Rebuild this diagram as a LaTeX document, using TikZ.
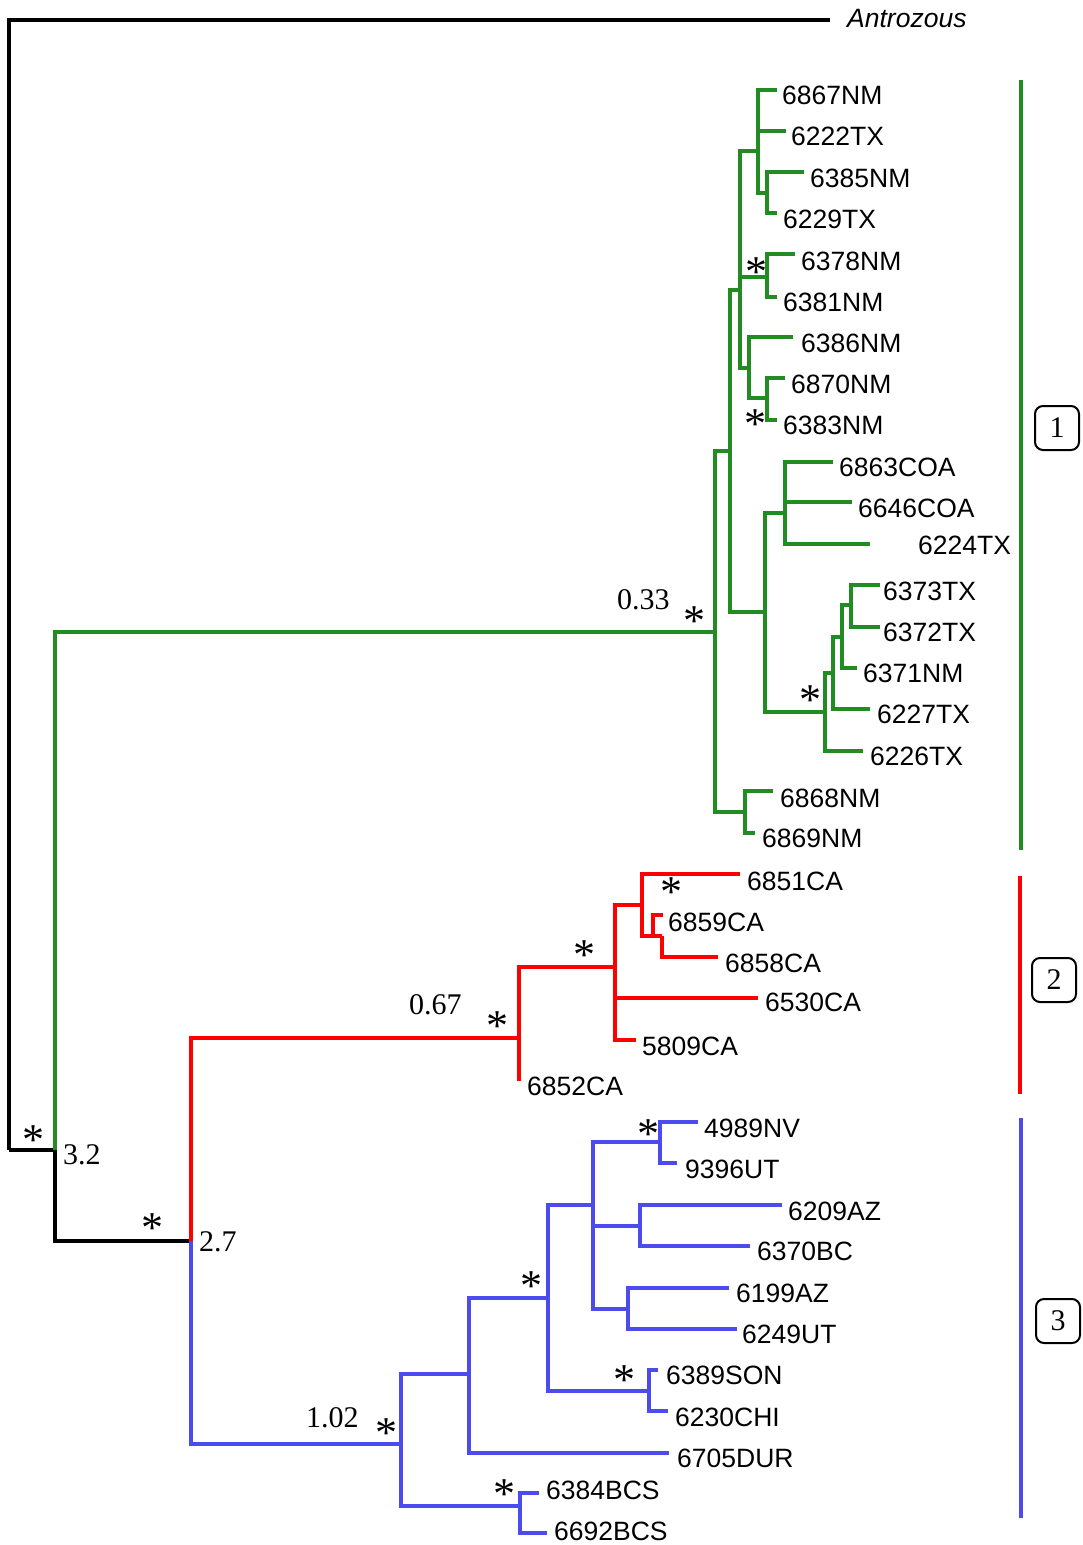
\documentclass[tikz,border=0pt]{standalone}
\usepackage{fontspec}
\setmainfont{Liberation Serif}
\newfontfamily\lsans{Liberation Sans}
\definecolor{tgreen}{RGB}{34,139,34}
\definecolor{tred}{RGB}{255,0,0}
\definecolor{tblue}{RGB}{75,75,240}
\tikzset{
  br/.style={line width=3.2pt},
  leaf/.style={anchor=west, inner sep=0pt, font=\lsans\fontsize{26.5}{30}\selectfont},
  num/.style={anchor=west, inner sep=0pt, font=\fontsize{30}{34}\selectfont},
  ast/.style={anchor=north, inner sep=0pt, font=\fontsize{44}{46}\selectfont},
  cbox/.style={draw, line width=2pt, rounded corners=8pt, minimum width=44pt, minimum height=44pt, inner sep=0pt, font=\fontsize{30}{34}\selectfont},
}
\begin{document}
\begin{tikzpicture}[x=1pt,y=-1pt]
\useasboundingbox (0,0) rectangle (1082,1545);
% ---------- coordinates ----------
% black
\coordinate (r) at (9,1150);
\coordinate (antend) at (830,20);
\coordinate (n32) at (55,1150);
\coordinate (n27) at (191,1241);
% green
\coordinate (g0) at (715,632);
\coordinate (ga) at (730,451);
\coordinate (gb) at (740,290);
\coordinate (gc) at (765,612);
\coordinate (gd) at (758,151);
\coordinate (ge) at (767,277);
\coordinate (gf) at (749,368);
\coordinate (gg) at (767,193);
\coordinate (gh) at (767,398);
\coordinate (gi) at (785,513);
\coordinate (gj) at (825,712);
\coordinate (gk) at (833,673);
\coordinate (gl) at (842,637);
\coordinate (gm) at (851,605);
\coordinate (gz) at (745,812);
\coordinate (l6867) at (777,90);
\coordinate (l6222) at (786,131);
\coordinate (l6385) at (804,172);
\coordinate (l6229) at (777,213);
\coordinate (l6378) at (795,254);
\coordinate (l6381) at (777,297);
\coordinate (l6386) at (793,337);
\coordinate (l6870) at (785,378);
\coordinate (l6383) at (777,420);
\coordinate (l6863) at (833,462);
\coordinate (l6646) at (852,502);
\coordinate (l6224) at (870,544);
\coordinate (l6373) at (880,585);
\coordinate (l6372) at (880,627);
\coordinate (l6371) at (857,668);
\coordinate (l6227) at (870,709);
\coordinate (l6226) at (863,751);
\coordinate (l6868) at (773,791);
\coordinate (l6869) at (755,833);
% red
\coordinate (r0) at (519,1038);
\coordinate (ra) at (615,967);
\coordinate (rb) at (642,905);
\coordinate (rc) at (653,936);
\coordinate (rd) at (662,936);
\coordinate (l6852) at (519,1081);
\coordinate (l6851) at (740,874);
\coordinate (l6859) at (663,915);
\coordinate (l6858) at (718,957);
\coordinate (l6530) at (758,998);
\coordinate (l5809) at (636,1040);
% blue
\coordinate (b0) at (401,1444);
\coordinate (ba) at (469,1374);
\coordinate (bb) at (548,1298);
\coordinate (bc) at (593,1205);
\coordinate (bd) at (660,1142);
\coordinate (be) at (640,1226);
\coordinate (bg) at (628,1309);
\coordinate (bf) at (649,1391);
\coordinate (bz) at (520,1506);
\coordinate (l4989) at (698,1122);
\coordinate (l9396) at (677,1163);
\coordinate (l6209) at (782,1205);
\coordinate (l6370) at (750,1246);
\coordinate (l6199) at (729,1288);
\coordinate (l6249) at (737,1329);
\coordinate (l6389) at (658,1370);
\coordinate (l6230) at (668,1411);
\coordinate (l6705) at (669,1453);
\coordinate (l6384) at (539,1493);
\coordinate (l6692) at (547,1533);
% ---------- branches ----------
\draw[br,black,line width=3.4pt] (r) |- (antend);
\draw[br,black,line width=3.4pt] (r) -- (n32);
\draw[br,black,line width=3.4pt] (n32) |- (n27);
\draw[br,tgreen] (n32) |- (g0);
\draw[br,tred] (n27) |- (r0);
\draw[br,tblue] (n27) |- (b0);
\foreach \p/\c in {g0/ga, g0/gz, ga/gb, ga/gc, gb/gd, gb/ge, gb/gf,
  gd/l6867, gd/l6222, gd/gg, gg/l6385, gg/l6229, ge/l6378, ge/l6381,
  gf/l6386, gf/gh, gh/l6870, gh/l6383, gc/gi, gc/gj,
  gi/l6863, gi/l6646, gi/l6224, gj/gk, gj/l6226, gk/gl, gk/l6227,
  gl/gm, gl/l6371, gm/l6373, gm/l6372, gz/l6868, gz/l6869}
  \draw[br,tgreen] (\p) |- (\c);
\foreach \p/\c in {r0/ra, r0/l6852, ra/rb, ra/l6530, ra/l5809,
  rb/l6851, rb/rc, rc/l6859, rc/rd, rd/l6858}
  \draw[br,tred] (\p) |- (\c);
\foreach \p/\c in {b0/ba, b0/bz, ba/bb, ba/l6705, bb/bc, bb/bf,
  bc/bd, bc/be, bc/bg, bd/l4989, bd/l9396, be/l6209, be/l6370,
  bg/l6199, bg/l6249, bf/l6389, bf/l6230, bz/l6384, bz/l6692}
  \draw[br,tblue] (\p) |- (\c);
% ---------- leaf labels ----------
\node[leaf] (tant) at (847,19) {\itshape Antrozous};
\node[leaf] (t6867) at (782,95) {6867NM};
\node[leaf] (t6222) at (791,136) {6222TX};
\node[leaf] (t6385) at (810,178) {6385NM};
\node[leaf] (t6229) at (783,219) {6229TX};
\node[leaf] (t6378) at (801,261) {6378NM};
\node[leaf] (t6381) at (783,302) {6381NM};
\node[leaf] (t6386) at (801,343) {6386NM};
\node[leaf] (t6870) at (791,384) {6870NM};
\node[leaf] (t6383) at (783,425) {6383NM};
\node[leaf] (t6863) at (839,467) {6863COA};
\node[leaf] (t6646) at (858,508) {6646COA};
\node[leaf] (t6224) at (918,545) {6224TX};
\node[leaf] (t6373) at (883,591) {6373TX};
\node[leaf] (t6372) at (883,632) {6372TX};
\node[leaf] (t6371) at (863,673) {6371NM};
\node[leaf] (t6227) at (877,714) {6227TX};
\node[leaf] (t6226) at (870,756) {6226TX};
\node[leaf] (t6868) at (780,798) {6868NM};
\node[leaf] (t6869) at (762,838) {6869NM};
\node[leaf] (t6851) at (747,881) {6851CA};
\node[leaf] (t6859) at (668,922) {6859CA};
\node[leaf] (t6858) at (725,963) {6858CA};
\node[leaf] (t6530) at (765,1002) {6530CA};
\node[leaf] (t5809) at (642,1046) {5809CA};
\node[leaf] (t6852) at (527,1086) {6852CA};
\node[leaf] (t4989) at (704,1128) {4989NV};
\node[leaf] (t9396) at (685,1169) {9396UT};
\node[leaf] (t6209) at (788,1211) {6209AZ};
\node[leaf] (t6370) at (757,1251) {6370BC};
\node[leaf] (t6199) at (736,1293) {6199AZ};
\node[leaf] (t6249) at (742,1334) {6249UT};
\node[leaf] (t6389) at (666,1375) {6389SON};
\node[leaf] (t6230) at (675,1417) {6230CHI};
\node[leaf] (t6705) at (677,1458) {6705DUR};
\node[leaf] (t6384) at (546,1490) {6384BCS};
\node[leaf] (t6692) at (554,1531) {6692BCS};
% ---------- branch lengths ----------
\node[num] (v32) at (63,1155) {3.2};
\node[num] (v27) at (199,1242) {2.7};
\node[num] (v033) at (617,600) {0.33};
\node[num] (v067) at (409,1005) {0.67};
\node[num] (v102) at (306,1418) {1.02};
% ---------- support asterisks ----------
\foreach \n/\x/\y in {a1/33/1134, a2/152/1222, a3/694/615, a4/756/266,
  a5/755/418, a6/810/694, a7/671/886, a8/584/949, a9/497/1020,
  a10/648/1128, a11/531/1280, a12/624/1374, a13/386/1427, a14/504/1488}
  \node[ast] (\n) at (\x,\y-9) {*};
% ---------- clade bars and boxes ----------
\coordinate (c1t) at (1021,80);
\coordinate (c1b) at (1021,850);
\coordinate (c2t) at (1020,876);
\coordinate (c2b) at (1020,1094);
\coordinate (c3t) at (1021,1118);
\coordinate (c3b) at (1021,1518);
\draw[br,tgreen] (c1t) -- (c1b);
\draw[br,tred] (c2t) -- (c2b);
\draw[br,tblue] (c3t) -- (c3b);
\node[cbox] (k1) at (1057,428) {1};
\node[cbox] (k2) at (1054,980) {2};
\node[cbox] (k3) at (1058,1321) {3};
\end{tikzpicture}
\end{document}
